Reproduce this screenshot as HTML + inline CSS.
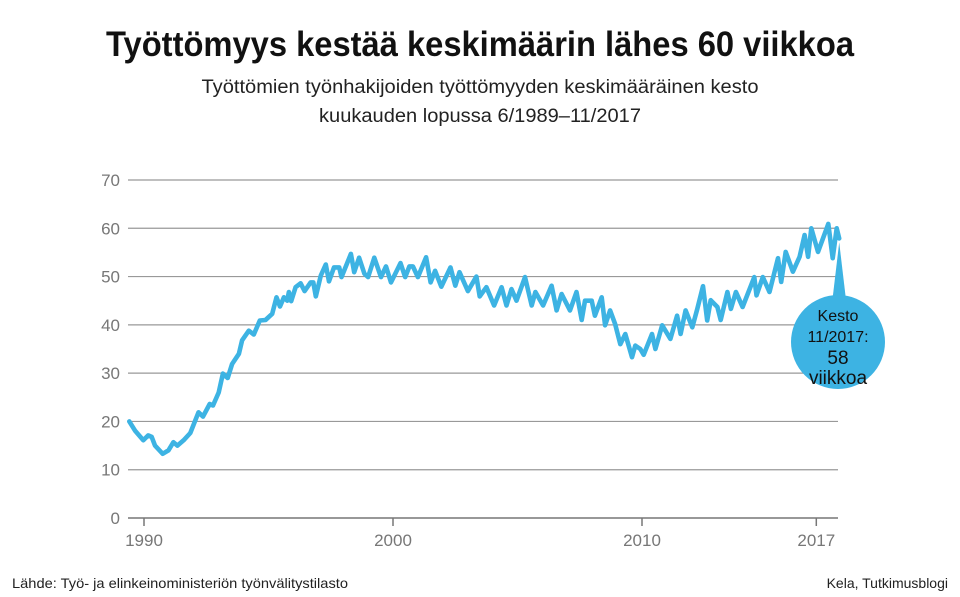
<!DOCTYPE html>
<html><head><meta charset="utf-8">
<style>
body{margin:0;background:#fff;font-family:"Liberation Sans",sans-serif;}
#wrap{position:relative;width:960px;height:597px;overflow:hidden;}
</style></head>
<body>
<div id="wrap">
<svg id="chart" width="960" height="597">
<text x="480" y="56" text-anchor="middle" font-size="35" font-weight="bold" fill="#111" font-family="Liberation Sans, sans-serif" textLength="748" lengthAdjust="spacingAndGlyphs">Työttömyys kestää keskimäärin lähes 60 viikkoa</text>
<text x="480" y="93" text-anchor="middle" font-size="19" fill="#222" textLength="557" lengthAdjust="spacingAndGlyphs">Työttömien työnhakijoiden työttömyyden keskimääräinen kesto</text>
<text x="480" y="122" text-anchor="middle" font-size="19" fill="#222" textLength="322" lengthAdjust="spacingAndGlyphs">kuukauden lopussa 6/1989–11/2017</text>
<g id="grid"></g>
<g id="xaxis"></g>
<path id="line" fill="none" stroke="#3db3e3" stroke-width="4.6" stroke-linejoin="round" stroke-linecap="round"></path>
<g id="callout">
<path id="pointer" fill="#3db3e3"></path>
<circle cx="838" cy="342" r="47" fill="#3db3e3"></circle>
<text x="838" y="321" text-anchor="middle" font-size="16" fill="#111">Kesto</text>
<text x="838" y="342" text-anchor="middle" font-size="16" fill="#111">11/2017:</text>
<text x="838" y="364" text-anchor="middle" font-size="19" fill="#111">58</text>
<text x="838" y="384" text-anchor="middle" font-size="19" fill="#111">viikkoa</text>
</g>
<text x="12" y="588" font-size="14" fill="#222" textLength="336" lengthAdjust="spacingAndGlyphs">Lähde: Työ- ja elinkeinoministeriön työnvälitystilasto</text>
<text x="948" y="588" text-anchor="end" font-size="14" fill="#222">Kela, Tutkimusblogi</text>
</svg>
</div>
<script>
const yTicks=[0,10,20,30,40,50,60,70];
const xTickYears=[1990,2000,2010,2017];
const dates=[1989.41,1989.64,1989.97,1990.17,1990.31,1990.44,1990.75,1990.98,1991.18,1991.34,1991.59,1991.86,1992.19,1992.37,1992.64,1992.77,1993.0,1993.17,1993.36,1993.54,1993.81,1993.94,1994.21,1994.41,1994.65,1994.88,1995.15,1995.32,1995.46,1995.62,1995.75,1995.82,1995.91,1996.09,1996.29,1996.45,1996.69,1996.8,1996.9,1997.1,1997.3,1997.43,1997.63,1997.84,1997.93,1998.31,1998.44,1998.64,1998.85,
1999.0,1999.25,1999.52,1999.72,1999.92,2000.3,2000.49,2000.66,2000.8,2001.0,2001.33,2001.51,2001.69,2001.94,2002.31,2002.5,2002.67,2003.01,2003.35,2003.48,2003.75,2004.06,2004.36,2004.56,2004.76,2004.96,2005.3,2005.57,2005.72,2006.03,2006.37,2006.57,2006.77,2007.11,2007.37,2007.58,2007.71,2007.98,2008.11,2008.38,
2008.52,2008.72,2008.92,2009.13,2009.33,2009.6,2009.73,2009.93,2010.07,2010.4,2010.54,2010.81,2011.14,2011.41,2011.55,2011.75,2012.02,2012.22,2012.45,2012.62,2012.76,2013.03,2013.16,2013.43,2013.57,2013.77,2014.04,2014.51,2014.6,2014.85,2015.12,2015.46,2015.59,2015.77,2016.06,2016.33,2016.53,2016.67,2016.8,2017.07,2017.48,2017.66,2017.82,2017.92];
const values=[20,18.1,16.1,17.1,16.8,15,13.3,14,15.7,15,16.1,17.6,21.9,21,23.6,23.3,26,29.9,29,31.9,34,36.8,38.8,38,40.9,41,42.3,45.7,43.8,45.7,45,46.8,44.9,47.8,48.6,47,48.8,48.8,45.9,50.2,52.5,49,51.9,51.9,49.9,54.7,50.9,53.9,50.6,
49.9,53.9,49.9,52.1,48.8,52.8,49.9,52.1,52.1,49.9,54,48.8,51.2,47.9,51.9,48.1,50.9,47,50,45.9,47.8,44,47.8,44,47.4,45,49.9,44,46.8,44,48.1,43,46.4,43,46.8,41,45,45,41.9,45.7,
39.9,43,40.2,36,38.1,33.3,35.7,35,33.8,38.1,35,39.9,37.1,41.9,38.1,43,39.5,43.3,48,40.9,45.1,43.7,41,46.8,43.3,46.8,43.7,49.9,46.1,49.9,46.8,53.8,48.9,55.1,51,54.1,58.6,54.1,60,55.1,60.9,53.8,60,57.9];

const NS="http://www.w3.org/2000/svg";
const x0=144,x1=393;
function x(yr){return x0+(yr-1990)*(x1-x0)/10;}
function y(v){return 518-v*(518-180)/70;}

const grid=document.getElementById('grid');
yTicks.forEach(t=>{
  const l=document.createElementNS(NS,'line');
  l.setAttribute('x1',128);l.setAttribute('x2',838);
  l.setAttribute('y1',y(t));l.setAttribute('y2',y(t));
  l.setAttribute('stroke',t===0?'#777':'#999');l.setAttribute('stroke-width',t===0?1.5:1.2);
  
  
  grid.appendChild(l);
  const tx=document.createElementNS(NS,'text');
  tx.setAttribute('x',120);tx.setAttribute('y',y(t)+6);
  tx.setAttribute('text-anchor','end');tx.setAttribute('font-size','17');tx.setAttribute('fill','#777');
  tx.textContent=t;
  
  
  grid.appendChild(tx);
});
const xa=document.getElementById('xaxis');
xTickYears.forEach(yr=>{
  const l=document.createElementNS(NS,'line');
  l.setAttribute('x1',x(yr));l.setAttribute('x2',x(yr));
  l.setAttribute('y1',518);l.setAttribute('y2',526);
  l.setAttribute('stroke','#777');l.setAttribute('stroke-width',1.5);
  
  
  xa.appendChild(l);
  const tx=document.createElementNS(NS,'text');
  tx.setAttribute('x',x(yr));tx.setAttribute('y',546);
  tx.setAttribute('text-anchor','middle');tx.setAttribute('font-size','17');tx.setAttribute('fill','#777');
  tx.textContent=yr;
  
  
  xa.appendChild(tx);
});
let d='';
dates.forEach((t,i)=>{d+=(i?'L':'M')+x(t).toFixed(1)+','+y(values[i]).toFixed(1);});
document.getElementById('line').setAttribute('d',d);
const ex=x(dates[dates.length-1]),ey=y(values[values.length-1]);
document.getElementById('pointer').setAttribute('d','M'+ex+','+(ey+4)+'L'+(ex-8)+',310L'+(ex+8)+',310Z');
</script>
</body></html>
